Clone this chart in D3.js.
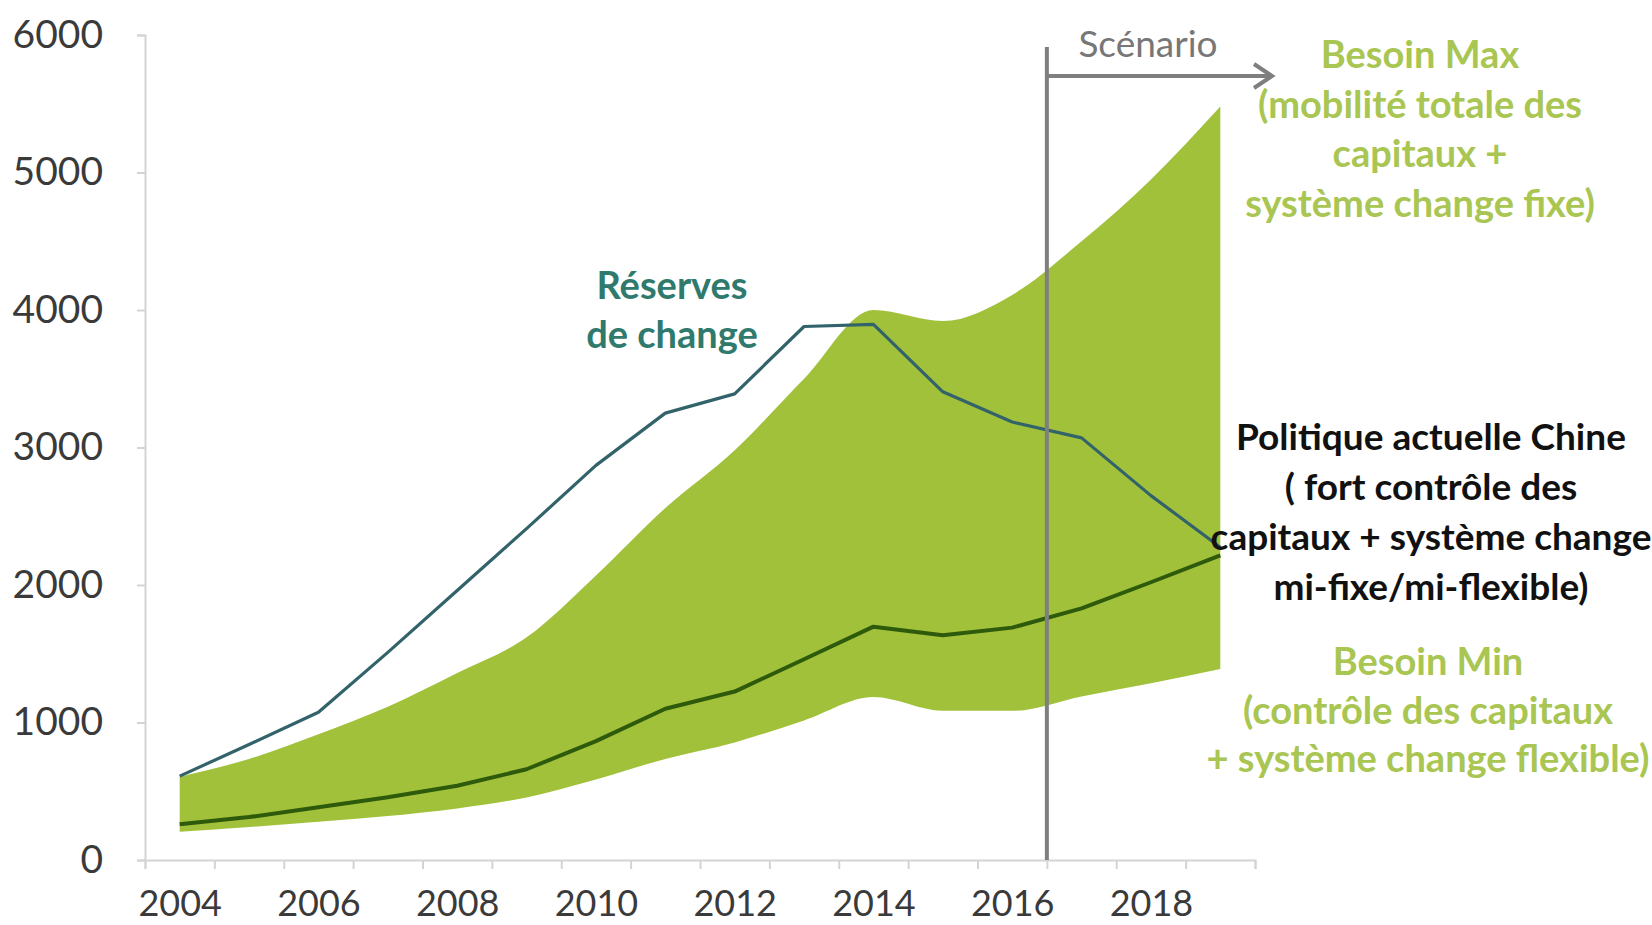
<!DOCTYPE html>
<html>
<head>
<meta charset="utf-8">
<script src="https://cdn.jsdelivr.net/npm/d3@7"></script>
<style>
  html, body { margin: 0; padding: 0; background: #fff; }
  svg { display: block; }
  text { font-family: Lato, "Open Sans", "DejaVu Sans", sans-serif; }
</style>
</head>
<body>
<svg id="chart" width="1652" height="925"></svg>
<script>
// ---- Data ----
const years      = [2004, 2005, 2006, 2007, 2008, 2009, 2010, 2011, 2012, 2013, 2014, 2015, 2016, 2017, 2018, 2019];
const reserves   = [610, 840, 1075, 1510, 1960, 2410, 2870, 3250, 3390, 3880, 3895, 3405, 3185, 3070, 2650, 2275];
const besoinMax  = [605, 735, 915, 1115, 1360, 1620, 2070, 2560, 2980, 3500, 4000, 3920, 4110, 4500, 4950, 5480];
const besoinMin  = [205, 240, 278, 320, 375, 455, 585, 735, 855, 1015, 1185, 1085, 1085, 1190, 1285, 1390];
const politique  = [260, 312, 384, 457, 540, 660, 865, 1100, 1225, 1460, 1697, 1635, 1690, 1830, 2020, 2215];
const yTicks     = [0, 1000, 2000, 3000, 4000, 5000, 6000];
const xLabels    = [2004, 2006, 2008, 2010, 2012, 2014, 2016, 2018];
const scenarioYear = 2016.5;

const labelReserves = ["Réserves", "de change"];
const labelMax      = ["Besoin Max", "(mobilité totale des", "capitaux +", "système change fixe)"];
const labelPolitique= ["Politique actuelle Chine", "( fort contrôle des", "capitaux + système change", "mi-fixe/mi-flexible)"];
const labelMin      = ["Besoin Min", "(contrôle des capitaux", "+ système change flexible)"];
const labelScenario = "Scénario";

// ---- Scales ----
const svg = d3.select("#chart");
const x = d3.scaleLinear().domain([2003.5, 2019.5]).range([145, 1255]);
const y = d3.scaleLinear().domain([0, 6000]).range([860, 35]);

const axisColor = "#d4d4d4";
const tickTextColor = "#3a3a3a";

// ---- Area (band between min and max) ----
const band = years.map((yr, i) => ({yr, lo: besoinMin[i], hi: besoinMax[i]}));
svg.append("path")
  .datum(band)
  .attr("fill", "#a2c13a")
  .attr("d", d3.area().x(d => x(d.yr)).y0(d => y(d.lo)).y1(d => y(d.hi)).curve(d3.curveMonotoneX));

// ---- Axes ----
const yAxis = svg.append("g")
  .attr("transform", `translate(${x.range()[0]},0)`)
  .call(d3.axisLeft(y).tickValues(yTicks).tickSize(8).tickPadding(34).tickFormat(d3.format("d")));
yAxis.select(".domain").attr("stroke", axisColor).attr("stroke-width", 2);
yAxis.selectAll(".tick line").attr("stroke", axisColor).attr("stroke-width", 2);
yAxis.selectAll(".tick text").attr("fill", tickTextColor).style("font-size", "39px").attr("font-family", "Lato, sans-serif");

const xTickVals = d3.range(2003.5, 2020, 1);
const xAxis = svg.append("g")
  .attr("transform", `translate(0,${y(0)})`)
  .call(d3.axisBottom(x).tickValues(xTickVals).tickSize(9).tickFormat(""));
xAxis.select(".domain").attr("stroke", axisColor).attr("stroke-width", 2);
xAxis.selectAll(".tick line").attr("stroke", axisColor).attr("stroke-width", 2);

const xLab = svg.append("g")
  .attr("transform", `translate(0,${y(0)})`)
  .call(d3.axisBottom(x).tickValues(xLabels).tickSize(0).tickPadding(30).tickFormat(d3.format("d")));
xLab.select(".domain").remove();
xLab.selectAll(".tick text").attr("fill", tickTextColor).style("font-size", "36px").attr("font-family", "Lato, sans-serif");

// ---- Lines ----
const lineGen = d3.line().x((d, i) => x(years[i])).y(d => y(d));
svg.append("path").datum(reserves)
  .attr("fill", "none").attr("stroke", "#33636a").attr("stroke-width", 3.2).attr("stroke-linejoin", "round")
  .attr("d", lineGen);
svg.append("path").datum(politique)
  .attr("fill", "none").attr("stroke", "#2e5a0c").attr("stroke-width", 4).attr("stroke-linejoin", "round")
  .attr("d", lineGen);

// ---- Scenario marker ----
const sx = x(scenarioYear);
svg.append("line")
  .attr("x1", sx).attr("x2", sx).attr("y1", 47).attr("y2", y(0))
  .attr("stroke", "#7f7f7f").attr("stroke-width", 4);
const arrowY = 76, arrowEnd = 1272;
svg.append("line")
  .attr("x1", sx).attr("x2", arrowEnd - 2).attr("y1", arrowY).attr("y2", arrowY)
  .attr("stroke", "#7f7f7f").attr("stroke-width", 4);
svg.append("path")
  .attr("d", `M${arrowEnd - 18},${arrowY - 12} L${arrowEnd},${arrowY} L${arrowEnd - 18},${arrowY + 12}`)
  .attr("fill", "none").attr("stroke", "#7f7f7f").attr("stroke-width", 4).attr("stroke-linejoin", "miter");
svg.append("text")
  .attr("x", 1148).attr("y", 44).attr("dy", "0.35em")
  .attr("text-anchor", "middle").attr("fill", "#777777")
  .style("font-size", "37px").style("font-weight", 400)
  .text(labelScenario);

// ---- Text annotations ----
function block(lines, cx, y0, lh, color, size, weight) {
  const t = svg.append("text")
    .attr("text-anchor", "middle").attr("fill", color)
    .style("font-size", size + "px").style("font-weight", weight);
  lines.forEach((s, i) => {
    t.append("tspan").attr("x", cx).attr("y", y0 + i * lh).attr("dy", "0.35em").text(s);
  });
}
block(labelReserves, 672, 286, 49, "#2f7a6c", 38, 700);
block(labelMax, 1420, 55, 49.5, "#a9c552", 38, 700);
block(labelPolitique, 1431, 437, 50, "#111111", 37, 700);
block(labelMin, 1428, 662, 48.5, "#a9c552", 38, 700);
</script>
</body>
</html>
